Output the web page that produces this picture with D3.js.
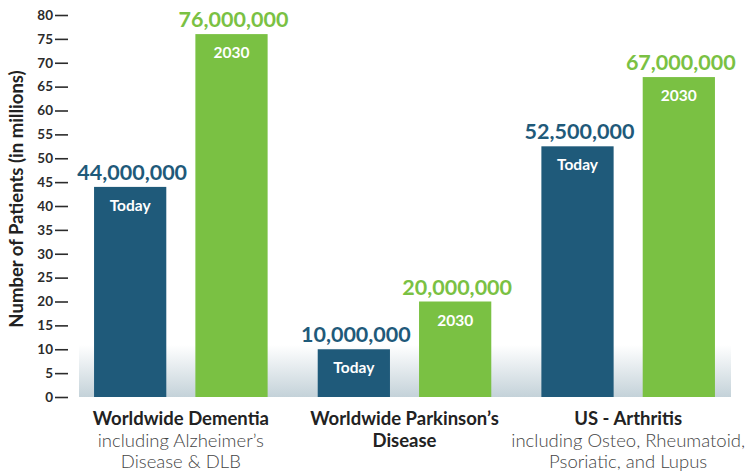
<!DOCTYPE html>
<html>
<head>
<meta charset="utf-8">
<script src="https://cdn.jsdelivr.net/npm/d3@7/dist/d3.min.js"></script>
<style>
  html, body { margin: 0; padding: 0; background: #fff; }
  svg { display: block; font-family: Lato, "Open Sans", sans-serif; }
</style>
</head>
<body>
<svg id="chart" width="749" height="475"></svg>
<script>
const categories = ["Worldwide Dementia", "Worldwide Parkinson’s", "US - Arthritis"];
const seriesNames = ["Today", "2030"];
const todayValues = [44, 10, 52.5];
const futureValues = [76, 20, 67];
const yTickValues = [0, 5, 10, 15, 20, 25, 30, 35, 40, 45, 50, 55, 60, 65, 70, 75, 80];
const titleLines = [["Worldwide Dementia"], ["Worldwide Parkinson’s", "Disease"], ["US - Arthritis"]];
const subLines = [["including Alzheimer’s", "Disease & DLB"], [], ["including Osteo, Rheumatoid,", "Psoriatic, and Lupus"]];
const yTitle = "Number of Patients (in millions)";

const colors = { "Today": "#1f5a7a", "2030": "#7ac143" };

const svg = d3.select("#chart");

const y = d3.scaleLinear().domain([0, 80]).range([397, 15]);
const x0 = d3.scaleBand().domain(categories).range([69, 740]).paddingInner(0.224).paddingOuter(0.112);
const x1 = d3.scaleBand().domain(seriesNames).range([0, x0.bandwidth()]).paddingInner(0.287);

// gradient background band
const defs = svg.append("defs");
const grad = defs.append("linearGradient").attr("id", "bg").attr("x1", 0).attr("y1", 0).attr("x2", 0).attr("y2", 1);
grad.append("stop").attr("offset", "0%").attr("stop-color", "#ffffff");
grad.append("stop").attr("offset", "100%").attr("stop-color", "#c4d2d9");
svg.append("rect")
  .attr("x", 79).attr("y", 345)
  .attr("width", 731 - 79).attr("height", y(0) - 345)
  .attr("fill", "url(#bg)");

// y axis
const yAxis = d3.axisLeft(y).tickValues(yTickValues).tickSize(13).tickPadding(2).tickFormat(d3.format("d"));
const gy = svg.append("g").attr("transform", "translate(68,0)").call(yAxis);
gy.select(".domain").remove();
gy.selectAll(".tick line").attr("stroke", "#2b2b2b").attr("stroke-width", 1.6);
gy.selectAll(".tick text")
  .attr("fill", "#2b2b2b")
  .style("font-family", "Lato, sans-serif")
  .style("font-size", "13.5px")
  .style("font-weight", "bold");

svg.append("text")
  .attr("transform", "translate(23,199) rotate(-90)")
  .attr("text-anchor", "middle")
  .attr("fill", "#222")
  .style("font-size", "18.5px")
  .style("font-weight", "bold")
  .text(yTitle);

// bars
const rows = categories.map((c, i) => ({
  cat: c,
  bars: [
    { series: "Today", value: todayValues[i] },
    { series: "2030", value: futureValues[i] }
  ]
}));

const fmt = d3.format(",");
const groups = svg.selectAll("g.group").data(rows).enter().append("g")
  .attr("class", "group")
  .attr("transform", d => `translate(${x0(d.cat)},0)`);

groups.selectAll("rect.bar").data(d => d.bars).enter().append("rect")
  .attr("class", "bar")
  .attr("x", d => x1(d.series))
  .attr("width", x1.bandwidth())
  .attr("y", d => y(d.value))
  .attr("height", d => y(0) - y(d.value))
  .attr("fill", d => colors[d.series]);

groups.selectAll("text.val").data(d => d.bars).enter().append("text")
  .attr("class", "val")
  .attr("x", d => x1(d.series) + x1.bandwidth() / 2 + 2)
  .attr("y", d => y(d.value) - 7)
  .attr("text-anchor", "middle")
  .attr("fill", d => colors[d.series])
  .style("font-size", "21.5px")
  .style("font-weight", "bold")
  .text(d => fmt(d.value * 1e6));

groups.selectAll("text.inner").data(d => d.bars).enter().append("text")
  .attr("class", "inner")
  .attr("x", d => x1(d.series) + x1.bandwidth() / 2)
  .attr("y", d => y(d.value) + 24)
  .attr("text-anchor", "middle")
  .attr("fill", "#fff")
  .style("font-size", "15.5px")
  .style("font-weight", "bold")
  .text(d => d.series);

// category labels
groups.each(function(d, i) {
  const g = d3.select(this);
  const cx = x0.bandwidth() / 2;
  let baseline = 425;
  titleLines[i].forEach(t => {
    g.append("text").attr("x", cx).attr("y", baseline)
      .attr("text-anchor", "middle").attr("fill", "#222")
      .style("font-size", "18.5px").style("font-weight", "bold").text(t);
    baseline += 21.5;
  });
  subLines[i].forEach(t => {
    g.append("text").attr("x", cx).attr("y", baseline)
      .attr("text-anchor", "middle").attr("fill", "#444")
      .style("font-size", "18.5px").style("font-weight", "300").text(t);
    baseline += 21.5;
  });
});
</script>
</body>
</html>
